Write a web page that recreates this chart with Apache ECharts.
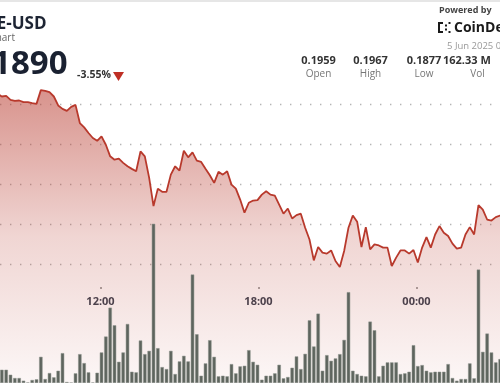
<!DOCTYPE html>
<html><head><meta charset="utf-8">
<script src="https://cdn.jsdelivr.net/npm/echarts@6/dist/echarts.min.js"></script>
<style>html,body{margin:0;padding:0;background:#fff;}#c{width:500px;height:383px;}</style>
</head><body><div id="c"></div>
<script>
// ---- data ----
const priceStartIndex = -1;
const prices = [
 0.19650, 0.19637, 0.19640, 0.19620, 0.19615, 0.19617, 0.19609, 0.19609, 0.19604, 0.19600,
 0.19669, 0.19665, 0.19659, 0.19637, 0.19592, 0.19575, 0.19565, 0.19585, 0.19595, 0.19504,
 0.19482, 0.19454, 0.19429, 0.19415, 0.19437, 0.19395, 0.19337, 0.19320, 0.19325, 0.19304,
 0.19287, 0.19274, 0.19262, 0.19362, 0.19337, 0.19229, 0.19087, 0.19175, 0.19159, 0.19159,
 0.19245, 0.19287, 0.19265, 0.19365, 0.19332, 0.19357, 0.19315, 0.19309, 0.19275, 0.19242,
 0.19204, 0.19259, 0.19245, 0.19262, 0.19195, 0.19175, 0.19120, 0.19054, 0.19104, 0.19115,
 0.19117, 0.19145, 0.19162, 0.19145, 0.19140, 0.19095, 0.19049, 0.19075, 0.19025, 0.19042,
 0.19049, 0.18979, 0.18920, 0.18815, 0.18882, 0.18854, 0.18849, 0.18865, 0.18812, 0.18782,
 0.18862, 0.18979, 0.19040, 0.19009, 0.18882, 0.18982, 0.18870, 0.18895, 0.18890, 0.18879,
 0.18879, 0.18787, 0.18829, 0.18865, 0.18865, 0.18849, 0.18867, 0.18804, 0.18879, 0.18932,
 0.18879, 0.18945, 0.18987, 0.18954, 0.18937, 0.18899, 0.18874, 0.18879, 0.18945, 0.18982,
 0.18945, 0.19092, 0.19070, 0.19020, 0.19015, 0.19032, 0.19040, 0.19045
];
const volumes = [
 1.33, 1.33, 0.83, 0.50, 0.50, 0.23, 0.05, 0.30, 0.37, 2.63,
 0.40, 1.00, 0.57, 1.23, 3.00, 0.10, 0.03, 0.97, 2.90, 2.00,
 1.07, 0.05, 1.03, 3.07, 4.67, 7.57, 5.80, 2.13, 3.07, 5.93,
 1.13, 1.07, 4.27, 2.90, 3.23, 16.0, 3.50, 1.60, 1.40, 3.23,
 0.90, 2.17, 2.73, 2.17, 10.9, 4.90, 0.73, 1.97, 4.30, 2.63,
 0.67, 0.73, 0.67, 1.90, 0.97, 1.67, 1.73, 3.30, 2.13, 1.83,
 0.33, 0.73, 0.73, 0.97, 1.83, 0.47, 0.60, 1.53, 2.67, 1.40,
 2.93, 6.30, 3.67, 6.97, 1.23, 2.80, 2.23, 2.47, 2.90, 4.33,
 9.13, 1.23, 0.90, 0.73, 0.67, 6.17, 5.30, 0.67, 1.73, 2.07,
 2.07, 2.07, 0.90, 0.97, 1.13, 3.80, 1.70, 1.80, 1.23, 1.07,
 1.13, 1.13, 1.13, 1.90, 0.50, 0.23, 0.40, 0.40, 1.97, 0.47,
 11.4, 3.13, 4.97, 3.07, 2.07, 2.40
];
const timeLabels = {12: '12:00', 18: '18:00', 24: '00:00'};
const statValues = ['0.1959', '0.1967', '0.1877', '162.33 M'];
const statLabels = ['Open', 'High', 'Low', 'Vol'];
const titleText = 'DOGE-USD';
const subtitleText = 'Price Chart';
const lastPrice = '0.1890';
const changeText = '-3.55%';
const dateText = '5 Jun 2025 02:00';

// ---- chart ----
const FONT = '"Open Sans", "Noto Sans", sans-serif';
const chart = echarts.init(document.getElementById('c'), null, {renderer: 'canvas'});

const statCenters = [318.5, 370.5, 424, 477.5];
const graphics = [
  {type: 'rect', shape: {x: 0, y: 0, width: 500, height: 2}, style: {fill: '#e6e6e6'}, z: 10},
  {type: 'text', x: 46.5, y: 24, style: {text: titleText, font: 'bold 17px ' + FONT, fill: '#1d2433', textAlign: 'right', textVerticalAlign: 'middle'}},
  {type: 'text', x: 15, y: 38.5, style: {text: subtitleText, font: '10px ' + FONT, fill: '#666', textAlign: 'right', textVerticalAlign: 'middle'}},
  {type: 'text', x: 67.5, y: 65, style: {text: lastPrice, font: 'bold 33px ' + FONT, fill: '#1a2131', textAlign: 'right', textVerticalAlign: 'middle'}},
  {type: 'text', x: 77, y: 75.5, style: {text: changeText, font: 'bold 10.5px ' + FONT, fill: '#333', textAlign: 'left', textVerticalAlign: 'middle'}},
  {type: 'polygon', shape: {points: [[113, 72], [124, 72], [118.5, 81]]}, style: {fill: '#bf2f25'}},
  {type: 'text', x: 439, y: 10.5, style: {text: 'Powered by', font: 'bold 9px ' + FONT, fill: '#444', textAlign: 'left', textVerticalAlign: 'middle'}},
  {type: 'rect', shape: {x: 438, y: 22, width: 2, height: 11}, style: {fill: '#1a1a1a'}},
  {type: 'rect', shape: {x: 438, y: 22, width: 5, height: 2}, style: {fill: '#1a1a1a'}},
  {type: 'rect', shape: {x: 438, y: 31, width: 5, height: 2}, style: {fill: '#1a1a1a'}},
  {type: 'rect', shape: {x: 445, y: 24.5, width: 2, height: 2}, style: {fill: '#1a1a1a'}},
  {type: 'rect', shape: {x: 445, y: 28.5, width: 2, height: 2}, style: {fill: '#1a1a1a'}},
  {type: 'rect', shape: {x: 448.5, y: 22, width: 2, height: 2}, style: {fill: '#1a1a1a'}},
  {type: 'rect', shape: {x: 448.5, y: 31, width: 2, height: 2}, style: {fill: '#1a1a1a'}},
  {type: 'text', x: 454, y: 28, style: {text: 'CoinDesk', font: 'bold 14px ' + FONT, fill: '#1a1a1a', textAlign: 'left', textVerticalAlign: 'middle'}},
  {type: 'text', x: 447, y: 46.5, style: {text: dateText, font: '9.5px ' + FONT, fill: '#9a9a9a', textAlign: 'left', textVerticalAlign: 'middle'}}
];
statValues.forEach((v, k) => {
  const isLast = k === statValues.length - 1;
  graphics.push({type: 'text', x: isLast ? 443 : statCenters[k], y: 61,
    style: {text: v, font: 'bold 11px ' + FONT, fill: '#333', textAlign: isLast ? 'left' : 'center', textVerticalAlign: 'middle'}});
  graphics.push({type: 'text', x: statCenters[k], y: 74.5,
    style: {text: statLabels[k], font: '10px ' + FONT, fill: '#777', textAlign: 'center', textVerticalAlign: 'middle'}});
});

const xMin = -0.427, xMax = 114.97;

chart.setOption({
  animation: false,
  backgroundColor: '#ffffff',
  graphic: graphics,
  grid: [
    {left: 0, right: 0, top: 64, height: 320},     // price
    {left: 0, right: 0, top: 184, height: 200},    // volume
    {left: 100.5, width: 316, top: 100, height: 187}, // time labels
    {left: 0, right: 0, top: 104, height: 160}     // dotted grid lines
  ],
  xAxis: [
    {type: 'value', gridIndex: 0, min: xMin, max: xMax, show: false},
    {type: 'value', gridIndex: 1, min: xMin, max: xMax, show: false},
    {type: 'value', gridIndex: 2, min: 12, max: 24, interval: 6,
      axisLine: {show: false}, splitLine: {show: false},
      axisTick: {show: true, length: 2, lineStyle: {color: '#8a8a8a', width: 1.5}},
      axisLabel: {show: true, margin: 9, showMinLabel: true, showMaxLabel: true,
        formatter: v => timeLabels[v] || '', color: '#3b4250', fontSize: 11, fontWeight: 'bold', fontFamily: FONT}},
    {type: 'value', gridIndex: 3, min: 0, max: 1, show: false}
  ],
  yAxis: [
    {type: 'value', gridIndex: 0, min: 0.182, max: 0.198, show: false},
    {type: 'value', gridIndex: 1, min: 0, max: 20, show: false},
    {type: 'value', gridIndex: 2, min: 0, max: 1, show: false},
    {type: 'value', gridIndex: 3, min: 0.188, max: 0.196, interval: 0.002,
      axisLine: {show: false}, axisTick: {show: false}, axisLabel: {show: false},
      splitLine: {show: true, lineStyle: {color: '#b5b5b5', width: 1.4, type: [1.4, 8.6]}}}
  ],
  series: [
    {type: 'line', xAxisIndex: 0, yAxisIndex: 0, z: 2,
      data: prices.map((p, j) => [j + priceStartIndex, p]),
      showSymbol: false, symbol: 'none',
      lineStyle: {color: '#b8392c', width: 1.8},
      areaStyle: {color: new echarts.graphic.LinearGradient(0, 0, 0, 1, [
        {offset: 0, color: 'rgba(184,58,46,0.78)'},
        {offset: 0.5, color: 'rgba(184,58,46,0.30)'},
        {offset: 1, color: 'rgba(184,58,46,0.06)'}
      ])}},
    {type: 'bar', xAxisIndex: 1, yAxisIndex: 1, z: 3,
      data: volumes.map((v, i) => [i, v]),
      barWidth: 3.4,
      itemStyle: {color: '#5e655e', borderColor: '#8d938c', borderWidth: 0.5}}
  ]
});
</script>
</body></html>
